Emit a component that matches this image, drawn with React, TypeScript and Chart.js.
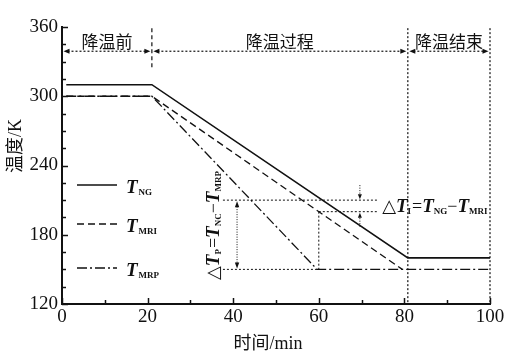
import React, { useEffect, useRef } from "react";
import { Chart, registerables } from "chart.js";
Chart.register(...registerables);

// ---- data ----
const timeNG = [1, 21, 80.8, 100];
const tempNG = [310, 310, 160, 160];
const timeMRI = [1, 21, 79.5];
const tempMRI = [300, 300, 150];
const timeMRP = [1, 21, 59.6, 100];
const tempMRP = [300, 300, 150, 150];

const xTickValues = [0, 20, 40, 60, 80, 100];
const yTickValues = [120, 180, 240, 300, 360];
const xMinorStep = 10;
const yMinorStep = 15;

const phaseLabels = ["降温前", "降温过程", "降温结束"];
const phaseBounds = [0, 21, 80.8, 100];
const phaseArrowTemp = 339;
const phaseLabelTemp = 346;

// annotation values
const deltaTime = 60;
const ngAtDelta = 210;
const mriAtDelta = 200;
const mrpAtDelta = 150;
const deltaPArrowTime = 40.9;
const deltaLeftTime = 37.6;
const deltaRightTime = 73.6;
const deltaIArrowTime = 69.6;

const SERIF = "'Liberation Serif', 'DejaVu Serif', 'Noto Sans CJK SC'";
const CJK = "'Liberation Serif', 'Noto Sans CJK SC'";
const INK = "#111";

type Part = { text: string; font: string; dy?: number; gap?: number };

function richWidth(ctx: CanvasRenderingContext2D, parts: Part[]) {
  let w = 0;
  for (const p of parts) {
    ctx.font = p.font;
    w += ctx.measureText(p.text).width + (p.gap || 0);
  }
  return w;
}
function drawRich(ctx: CanvasRenderingContext2D, x: number, y: number, parts: Part[], align: "left" | "center" = "left") {
  const total = richWidth(ctx, parts);
  let cx = align === "center" ? x - total / 2 : x;
  ctx.textAlign = "left";
  ctx.textBaseline = "alphabetic";
  for (const p of parts) {
    ctx.font = p.font;
    ctx.fillText(p.text, cx, y + (p.dy || 0));
    cx += ctx.measureText(p.text).width + (p.gap || 0);
  }
}

function arrow(ctx: CanvasRenderingContext2D, x: number, y: number, dir: "l" | "r" | "u" | "d", len = 6, hw = 2.5) {
  ctx.beginPath();
  if (dir === "l") { ctx.moveTo(x, y); ctx.lineTo(x + len, y - hw); ctx.lineTo(x + len, y + hw); }
  if (dir === "r") { ctx.moveTo(x, y); ctx.lineTo(x - len, y - hw); ctx.lineTo(x - len, y + hw); }
  if (dir === "u") { ctx.moveTo(x, y); ctx.lineTo(x - hw, y + len); ctx.lineTo(x + hw, y + len); }
  if (dir === "d") { ctx.moveTo(x, y); ctx.lineTo(x - hw, y - len); ctx.lineTo(x + hw, y - len); }
  ctx.closePath();
  ctx.fill();
}

function line(ctx: CanvasRenderingContext2D, x1: number, y1: number, x2: number, y2: number, dash: number[], w = 1) {
  ctx.save();
  ctx.setLineDash(dash);
  ctx.lineWidth = w;
  ctx.beginPath();
  ctx.moveTo(x1, y1);
  ctx.lineTo(x2, y2);
  ctx.stroke();
  ctx.restore();
}

const DASH_MRI = [7, 4];
const DASH_MRP = [10, 3, 2, 3];
const DOT = [2, 2];

const TF = `italic bold 19px ${SERIF}`;
const SUB = `bold 9px ${SERIF}`;
const NORM = `18px 'Liberation Serif', 'DejaVu Sans'`;

const overlay = {
  id: "overlay",
  afterDraw(chart: any) {
    const ctx: CanvasRenderingContext2D = chart.ctx;
    const xs = chart.scales.x;
    const ys = chart.scales.y;
    const px = (v: number) => xs.getPixelForValue(v);
    const py = (v: number) => ys.getPixelForValue(v);
    const area = chart.chartArea;
    ctx.save();
    ctx.strokeStyle = INK;
    ctx.fillStyle = INK;

    // inward ticks
    ctx.lineWidth = 1.5;
    for (let v = 120; v <= 360; v += yMinorStep) {
      const major = yTickValues.includes(v);
      const y = Math.round(py(v)) + 0.5;
      ctx.beginPath();
      ctx.moveTo(area.left, y);
      ctx.lineTo(area.left + (major ? 6 : 4), y);
      ctx.stroke();
    }
    for (let v = 0; v <= 100; v += xMinorStep) {
      const major = xTickValues.includes(v);
      const x = Math.round(px(v)) + 0.5;
      ctx.beginPath();
      ctx.moveTo(x, area.bottom);
      ctx.lineTo(x, area.bottom - (major ? 6 : 4));
      ctx.stroke();
    }

    // phase separators
    line(ctx, px(phaseBounds[1]), py(359), px(phaseBounds[1]), py(325), [4, 3], 1.2);
    line(ctx, px(phaseBounds[2]), py(359), px(phaseBounds[2]), py(120), DOT, 1.2);
    line(ctx, px(phaseBounds[3]), py(359), px(phaseBounds[3]), py(120), DOT, 1.2);

    // phase arrows + labels
    const ay = py(phaseArrowTemp);
    for (let i = 0; i < 3; i++) {
      const a = px(phaseBounds[i]) + 1.5;
      const b = px(phaseBounds[i + 1]) - 1.5;
      line(ctx, a + 4, ay, b - 4, ay, DOT, 1.2);
      arrow(ctx, a, ay, "l");
      arrow(ctx, b, ay, "r");
      ctx.font = `17px ${CJK}`;
      ctx.textAlign = "center";
      ctx.textBaseline = "middle";
      ctx.fillText(phaseLabels[i], (px(phaseBounds[i]) + px(phaseBounds[i + 1])) / 2, py(phaseLabelTemp));
    }

    // delta annotations
    line(ctx, px(deltaLeftTime), py(ngAtDelta), px(deltaRightTime), py(ngAtDelta), DOT, 1);
    line(ctx, px(deltaTime), py(mriAtDelta), px(deltaRightTime), py(mriAtDelta), DOT, 1);
    line(ctx, px(deltaLeftTime), py(mrpAtDelta), px(deltaTime), py(mrpAtDelta), DOT, 1);
    line(ctx, px(deltaTime), py(mriAtDelta), px(deltaTime), py(mrpAtDelta), DOT, 1);
    // vertical ΔTp arrow
    line(ctx, px(deltaPArrowTime), py(ngAtDelta) + 4, px(deltaPArrowTime), py(mrpAtDelta) - 4, [1, 1.5], 1);
    arrow(ctx, px(deltaPArrowTime), py(ngAtDelta) + 1, "u", 6, 2.2);
    arrow(ctx, px(deltaPArrowTime), py(mrpAtDelta) - 1, "d", 6, 2.2);
    // ΔTi arrows
    line(ctx, px(deltaIArrowTime), py(ngAtDelta) - 15, px(deltaIArrowTime), py(ngAtDelta) - 4, [1, 1.5], 1);
    arrow(ctx, px(deltaIArrowTime), py(ngAtDelta) - 1, "d", 5, 2);
    line(ctx, px(deltaIArrowTime), py(mriAtDelta) + 15, px(deltaIArrowTime), py(mriAtDelta) + 4, [1, 1.5], 1);
    arrow(ctx, px(deltaIArrowTime), py(mriAtDelta) + 1, "u", 5, 2);

    // ΔTi label
    const partsI: Part[] = [
      { text: "△", font: NORM },
      { text: "T", font: TF },
      { text: "I", font: SUB, dy: 2, gap: 1 },
      { text: "=", font: NORM },
      { text: "T", font: TF },
      { text: "NG", font: SUB, dy: 2 },
      { text: "−", font: NORM },
      { text: "T", font: TF },
      { text: "MRI", font: SUB, dy: 2 },
    ];
    drawRich(ctx, px(74.8), py(205) + 6, partsI);

    // ΔTp label rotated
    const partsP: Part[] = [
      { text: "△", font: NORM },
      { text: "T", font: TF },
      { text: "P", font: SUB, dy: 2, gap: 1 },
      { text: "=", font: NORM },
      { text: "T", font: TF },
      { text: "NC", font: SUB, dy: 2 },
      { text: "−", font: NORM },
      { text: "T", font: TF },
      { text: "MRP", font: SUB, dy: 2 },
    ];
    ctx.save();
    ctx.translate(px(35.2) + 6, py(188));
    ctx.rotate(-Math.PI / 2);
    drawRich(ctx, 0, 0, partsP, "center");
    ctx.restore();

    // legend
    const legend = [
      { dash: [] as number[], sub: "NG", y: 185 },
      { dash: DASH_MRI, sub: "MRI", y: 224 },
      { dash: DASH_MRP, sub: "MRP", y: 268 },
    ];
    for (const l of legend) {
      line(ctx, 77, l.y, 117, l.y, l.dash, 1.3);
      drawRich(ctx, 126, l.y + 8, [
        { text: "T", font: TF, gap: 1 },
        { text: l.sub, font: SUB, dy: 2 },
      ]);
    }

    // axis titles
    ctx.fillStyle = INK;
    ctx.font = `18px ${CJK}`;
    ctx.textAlign = "center";
    ctx.textBaseline = "middle";
    ctx.fillText("时间/min", (area.left + area.right) / 2 - 8, 344);
    ctx.save();
    ctx.translate(16, 146);
    ctx.rotate(-Math.PI / 2);
    ctx.fillText("温度/K", 0, 0);
    ctx.restore();

    ctx.restore();
  },
};

export default function App() {
  const ref = useRef<HTMLCanvasElement>(null);
  useEffect(() => {
    document.body.style.margin = "0";
    const toPts = (xs: number[], ys: number[]) => xs.map((x, i) => ({ x, y: ys[i] }));
    const chart = new Chart(ref.current!, {
      type: "line",
      data: {
        datasets: [
          { label: "T_NG", data: toPts(timeNG, tempNG), borderColor: INK, borderWidth: 1.6, pointRadius: 0, tension: 0, fill: false },
          { label: "T_MRI", data: toPts(timeMRI, tempMRI), borderColor: INK, borderWidth: 1.3, borderDash: DASH_MRI, pointRadius: 0, tension: 0, fill: false },
          { label: "T_MRP", data: toPts(timeMRP, tempMRP), borderColor: INK, borderWidth: 1.3, borderDash: DASH_MRP, pointRadius: 0, tension: 0, fill: false },
        ],
      },
      options: {
        responsive: false,
        animation: false,
        devicePixelRatio: 1,
        layout: { padding: { left: 0, top: 27, right: 25, bottom: 0 } },
        plugins: { legend: { display: false }, tooltip: { enabled: false } },
        scales: {
          x: {
            type: "linear",
            min: 0,
            max: 100,
            afterBuildTicks: (s: any) => { s.ticks = xTickValues.map((v) => ({ value: v })); },
            afterFit: (s: any) => { s.height = 52; },
            ticks: { color: INK, font: { family: SERIF, size: 19 }, padding: 2, maxRotation: 0, autoSkip: false },
            grid: { display: false, drawTicks: false },
            border: { display: true, color: INK, width: 2 },
          },
          y: {
            type: "linear",
            min: 120,
            max: 360,
            afterBuildTicks: (s: any) => { s.ticks = yTickValues.map((v) => ({ value: v })); },
            afterFit: (s: any) => { s.width = 62; },
            ticks: { color: INK, font: { family: SERIF, size: 19 }, padding: 4, autoSkip: false },
            grid: { display: false, drawTicks: false },
            border: { display: true, color: INK, width: 2 },
          },
        },
      },
      plugins: [overlay],
    });
    return () => chart.destroy();
  }, []);
  return (
    <div style={{ position: "fixed", left: 0, top: 0, width: 515, height: 356, background: "#fff" }}>
      <canvas ref={ref} width={515} height={356} />
    </div>
  );
}
